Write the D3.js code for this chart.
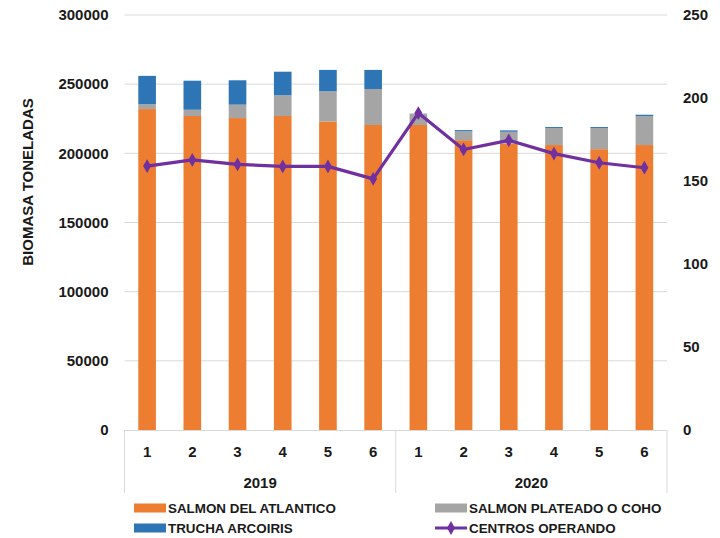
<!DOCTYPE html>
<html><head><meta charset="utf-8">
<script src="https://cdn.jsdelivr.net/npm/d3@7/dist/d3.min.js"></script>
<style>body{margin:0;background:#fff}svg{display:block}text{font-family:"Liberation Sans",Arial,sans-serif;font-weight:bold;fill:#1a1a1a}</style>
</head><body><svg id="c" width="720" height="538"></svg>
<script>
const months = ["1","2","3","4","5","6","1","2","3","4","5","6"];
const years = ["2019","2020"];
const atlantico = [232000,227000,225500,227000,223000,220500,220500,209500,207000,206000,203000,206000];
const coho = [3500,4500,9700,15000,21800,26000,8000,6500,8600,12300,15300,20800];
const trucha = [20500,21000,17600,17000,15500,13800,200,800,1000,700,700,1100];
const centros = [159,162.7,160,158.8,158.8,151.3,190.9,169,174.5,166.5,161,158];
const leftTicks = [0,50000,100000,150000,200000,250000,300000];
const rightTicks = [0,50,100,150,200,250];
const seriesNames = ["SALMON DEL ATLANTICO","SALMON PLATEADO  O COHO","TRUCHA ARCOIRIS","CENTROS OPERANDO"];
const colors = ["#ed7d31","#a5a5a5","#2e75b6","#7030a0"];

const svg = d3.select("#c");
const idx = d3.range(months.length);
const x = d3.scaleBand().domain(idx).range([124.5,667]).padding(0);
const yL = d3.scaleLinear().domain([0,300000]).range([430,15]);
const yR = d3.scaleLinear().domain([0,250]).range([430,15]);

svg.append("g").selectAll("line").data(leftTicks.slice(1)).join("line")
  .attr("x1",124.5).attr("x2",667).attr("y1",d=>yL(d)).attr("y2",d=>yL(d))
  .attr("stroke","#d9d9d9").attr("stroke-width",1);

const gl = svg.append("g").attr("transform","translate(124.5,0)")
  .call(d3.axisLeft(yL).tickValues(leftTicks).tickFormat(d3.format("d")).tickSize(0).tickPadding(16));
gl.select(".domain").remove();
gl.selectAll("text").attr("font-size",15).attr("font-family","Liberation Sans").attr("font-weight","bold").attr("fill","#1a1a1a");

const gr = svg.append("g").attr("transform","translate(667,0)")
  .call(d3.axisRight(yR).tickValues(rightTicks).tickSize(0).tickPadding(16));
gr.select(".domain").remove();
gr.selectAll("text").attr("font-size",15).attr("font-family","Liberation Sans").attr("font-weight","bold").attr("fill","#1a1a1a");

svg.append("text").attr("transform","translate(33,182) rotate(-90)").attr("text-anchor","middle")
  .attr("font-size",15).text("BIOMASA  TONELADAS");

const data = idx.map(i=>({i, a:atlantico[i], c:coho[i], t:trucha[i]}));
const stack = d3.stack().keys(["a","c","t"])(data);
const bw = x.bandwidth()*0.39;
stack.forEach((layer,k)=>{
  svg.append("g").selectAll("rect").data(layer).join("rect")
    .attr("x",d=>x(d.data.i)+x.bandwidth()/2-bw/2).attr("width",bw)
    .attr("y",d=>yL(d[1])).attr("height",d=>yL(d[0])-yL(d[1]))
    .attr("fill",colors[k]);
});

const ax = svg.append("g").attr("stroke","#d9d9d9").attr("stroke-width",1);
ax.append("line").attr("x1",124.5).attr("x2",667).attr("y1",430.5).attr("y2",430.5);
[124.5, x(6), 667].forEach(v=>ax.append("line").attr("x1",v).attr("x2",v).attr("y1",430).attr("y2",493));
svg.append("g").selectAll("text").data(idx).join("text")
  .attr("x",i=>x(i)+x.bandwidth()/2).attr("y",457).attr("text-anchor","middle")
  .attr("font-size",15).text(i=>months[i]);
svg.append("g").selectAll("text").data(years).join("text")
  .attr("x",(d,j)=>x(j*6)+x.bandwidth()*3).attr("y",488).attr("text-anchor","middle")
  .attr("font-size",15).text(d=>d);

const line = d3.line().x((d,i)=>x(i)+x.bandwidth()/2).y(d=>yR(d));
svg.append("path").datum(centros).attr("d",line).attr("fill","none")
  .attr("stroke",colors[3]).attr("stroke-width",3.2).attr("stroke-linejoin","round");
const diamond = d3.symbol().type(d3.symbolDiamond).size(55);
svg.append("g").selectAll("path").data(centros).join("path")
  .attr("transform",(d,i)=>`translate(${x(i)+x.bandwidth()/2},${yR(d)})`)
  .attr("d",diamond).attr("fill",colors[3]);

const leg = [
  {n:0, x:134, y:508, type:"rect"},
  {n:1, x:435, y:508, type:"rect"},
  {n:2, x:134, y:528, type:"rect"},
  {n:3, x:435, y:528, type:"line"}
];
const lg = svg.append("g");
leg.forEach(l=>{
  if(l.type==="rect"){
    lg.append("rect").attr("x",l.x).attr("y",l.y-4.5).attr("width",32).attr("height",9).attr("fill",colors[l.n]);
  } else {
    lg.append("line").attr("x1",l.x).attr("x2",l.x+32).attr("y1",l.y).attr("y2",l.y).attr("stroke",colors[3]).attr("stroke-width",3);
    lg.append("path").attr("transform",`translate(${l.x+16},${l.y})`).attr("d",diamond).attr("fill",colors[3]);
  }
  lg.append("text").attr("x",l.x+34).attr("y",l.y+4.5).attr("font-size",13.4).text(seriesNames[l.n]);
});
</script></body></html>
